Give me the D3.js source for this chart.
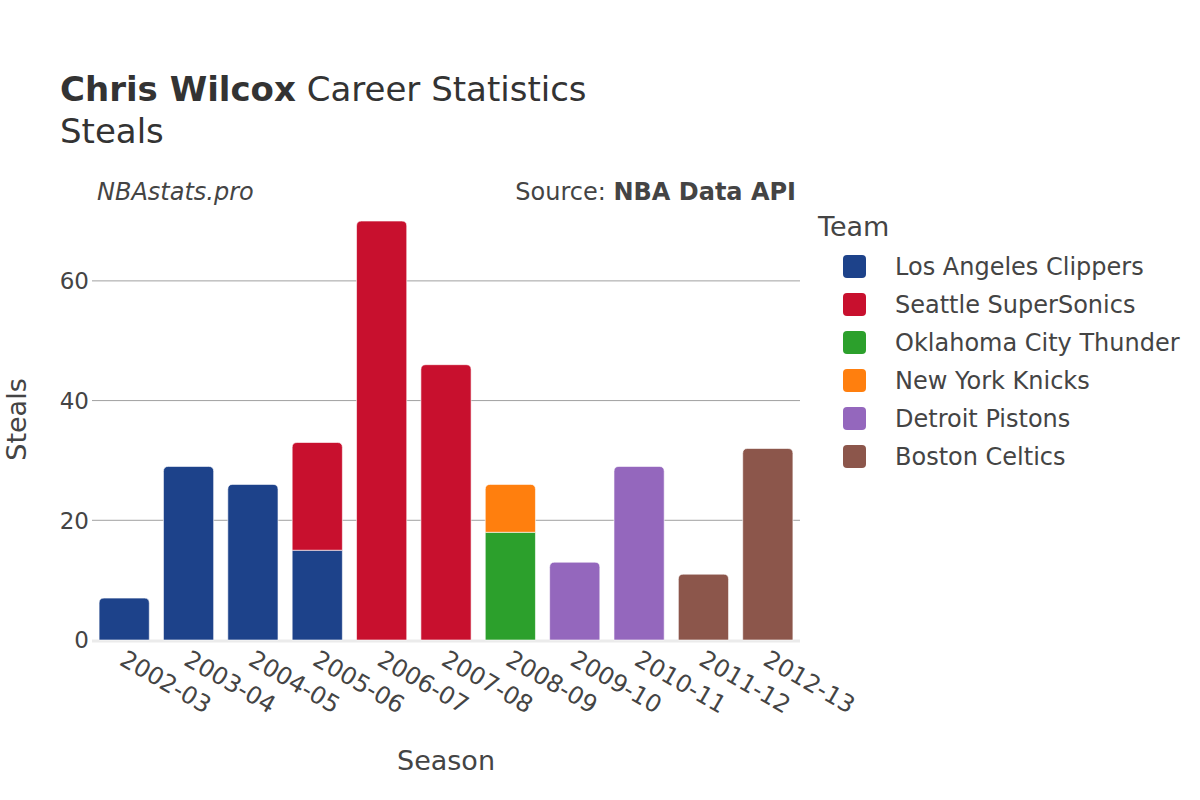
<!DOCTYPE html>
<html>
<head>
<meta charset="utf-8">
<script src="https://cdn.jsdelivr.net/npm/d3@7"></script>
<style>
  body { margin: 0; background: #fff; }
  svg { font-family: "DejaVu Sans", sans-serif; }
</style>
</head>
<body>
<svg width="1200" height="800"></svg>
<script>
// seasons, teams and steals per team per season
var seasons = ["2002-03", "2003-04", "2004-05", "2005-06", "2006-07", "2007-08",
	"2008-09", "2009-10", "2010-11", "2011-12", "2012-13"];
var teams = ["Los Angeles Clippers", "Seattle SuperSonics", "Oklahoma City Thunder",
	"New York Knicks", "Detroit Pistons", "Boston Celtics"];
var teamColors = ["#1d428a", "#c8102e", "#2ca02c", "#ff7f0e", "#9467bd", "#8c564b"];
var clippers = [7, 29, 26, 15, 0, 0, 0, 0, 0, 0, 0];
var sonics = [0, 0, 0, 18, 70, 46, 0, 0, 0, 0, 0];
var thunder = [0, 0, 0, 0, 0, 0, 18, 0, 0, 0, 0];
var knicks = [0, 0, 0, 0, 0, 0, 8, 0, 0, 0, 0];
var pistons = [0, 0, 0, 0, 0, 0, 0, 13, 29, 0, 0];
var celtics = [0, 0, 0, 0, 0, 0, 0, 0, 0, 11, 32];
var yTicks = [0, 20, 40, 60];

var svg = d3.select("svg");

var margin = {top: 199, right: 400, bottom: 160, left: 92},
	width = 1200 - margin.left - margin.right,
	height = 800 - margin.top - margin.bottom,
	g = svg.append("g").attr("transform", "translate(" + margin.left + "," + margin.top + ")");

// build rows for the stack
var series = [clippers, sonics, thunder, knicks, pistons, celtics];
var rows = seasons.map(function(s, i) {
	var r = {season: s};
	teams.forEach(function(t, j) { r[t] = series[j][i]; });
	return r;
});

var x = d3.scaleBand()
	.domain(seasons)
	.range([0, width])
	.paddingInner(0.22)
	.paddingOuter(0.11);

var totals = rows.map(function(r) { return d3.sum(teams, function(t) { return r[t]; }); });
var y = d3.scaleLinear()
	.domain([0, d3.max(totals) * 1.0526])
	.range([height, 0]);

var z = d3.scaleOrdinal().domain(teams).range(teamColors);

// grid lines
g.append("g")
	.selectAll("line")
	.data(yTicks.filter(function(d) { return d > 0; }))
	.enter().append("line")
	.attr("x1", 0)
	.attr("x2", width)
	.attr("y1", function(d) { return y(d); })
	.attr("y2", function(d) { return y(d); })
	.attr("stroke", "#a0a0a0")
	.attr("stroke-width", 1);

// zero line
g.append("line")
	.attr("x1", 0)
	.attr("x2", width)
	.attr("y1", y(0) + 1)
	.attr("y2", y(0) + 1)
	.attr("stroke", "#ebebeb")
	.attr("stroke-width", 3);

var stacked = d3.stack().keys(teams)(rows);

// find the top segment of each season so it gets round corners
var topKey = rows.map(function(r) {
	var k = null;
	teams.forEach(function(t) { if (r[t] > 0) k = t; });
	return k;
});

function barPath(x0, y0, w, h, r) {
	if (r <= 0) return "M" + x0 + "," + y0 + "h" + w + "v" + h + "h" + (-w) + "Z";
	r = Math.min(r, h, w / 2);
	return "M" + x0 + "," + (y0 + h) +
		"V" + (y0 + r) +
		"Q" + x0 + "," + y0 + " " + (x0 + r) + "," + y0 +
		"H" + (x0 + w - r) +
		"Q" + (x0 + w) + "," + y0 + " " + (x0 + w) + "," + (y0 + r) +
		"V" + (y0 + h) + "Z";
}

g.append("g")
	.selectAll("g")
	.data(stacked)
	.enter().append("g")
	.attr("fill", function(d) { return z(d.key); })
	.each(function(layer) {
		d3.select(this).selectAll("path")
			.data(layer.filter(function(d) { return d[1] - d[0] > 0; }))
			.enter().append("path")
			.attr("d", function(d) {
				var i = seasons.indexOf(d.data.season);
				var rad = topKey[i] === layer.key ? 5 : 0;
				return barPath(x(d.data.season), y(d[1]), x.bandwidth(), y(d[0]) - y(d[1]), rad);
			})
			.attr("stroke", "#fff")
			.attr("stroke-opacity", 0.6)
			.attr("stroke-width", 1);
	});

// y axis labels
g.append("g")
	.selectAll("text")
	.data(yTicks)
	.enter().append("text")
	.attr("x", -3)
	.attr("y", function(d) { return y(d); })
	.attr("dy", "0.36em")
	.attr("text-anchor", "end")
	.attr("font-size", 23)
	.attr("fill", "#444")
	.text(function(d) { return d; });

// x axis labels, rotated
g.append("g")
	.selectAll("text")
	.data(seasons)
	.enter().append("text")
	.attr("transform", function(d) {
		return "translate(" + (x(d) + x.bandwidth() / 2 - 6) + "," + (height + 24) + ") rotate(30)";
	})
	.attr("text-anchor", "start")
	.attr("font-size", 24)
	.attr("fill", "#444")
	.text(function(d) { return d; });

// axis titles
svg.append("text")
	.attr("x", margin.left + width / 2)
	.attr("y", 770)
	.attr("text-anchor", "middle")
	.attr("font-size", 27)
	.attr("fill", "#444")
	.text("Season");

svg.append("text")
	.attr("transform", "translate(26," + (margin.top + height / 2) + ") rotate(-90)")
	.attr("text-anchor", "middle")
	.attr("font-size", 27)
	.attr("fill", "#444")
	.text("Steals");

// titles
var title = svg.append("text")
	.attr("x", 60)
	.attr("y", 101)
	.attr("font-size", 34)
	.attr("fill", "#333");
title.append("tspan").attr("font-weight", "bold").text("Chris Wilcox");
title.append("tspan").text(" Career Statistics");

svg.append("text")
	.attr("x", 60)
	.attr("y", 143)
	.attr("font-size", 34)
	.attr("fill", "#333")
	.text("Steals");

svg.append("text")
	.attr("x", 97)
	.attr("y", 200)
	.attr("font-size", 24)
	.attr("font-style", "italic")
	.attr("fill", "#444")
	.text("NBAstats.pro");

var src = svg.append("text")
	.attr("x", 796)
	.attr("y", 200)
	.attr("text-anchor", "end")
	.attr("font-size", 24)
	.attr("fill", "#444");
src.append("tspan").text("Source: ");
src.append("tspan").attr("font-weight", "bold").text("NBA Data API");

// legend
svg.append("text")
	.attr("x", 818)
	.attr("y", 236)
	.attr("font-size", 27)
	.attr("fill", "#444")
	.text("Team");

var legend = svg.append("g")
	.selectAll("g")
	.data(teams)
	.enter().append("g")
	.attr("transform", function(d, i) { return "translate(843," + (266 + i * 38) + ")"; });

legend.append("rect")
	.attr("x", 0)
	.attr("y", -11)
	.attr("width", 23)
	.attr("height", 23)
	.attr("rx", 4)
	.attr("fill", z);

legend.append("text")
	.attr("x", 52)
	.attr("y", 0)
	.attr("dy", "0.36em")
	.attr("font-size", 24)
	.attr("fill", "#444")
	.text(function(d) { return d; });
</script>
</body>
</html>
